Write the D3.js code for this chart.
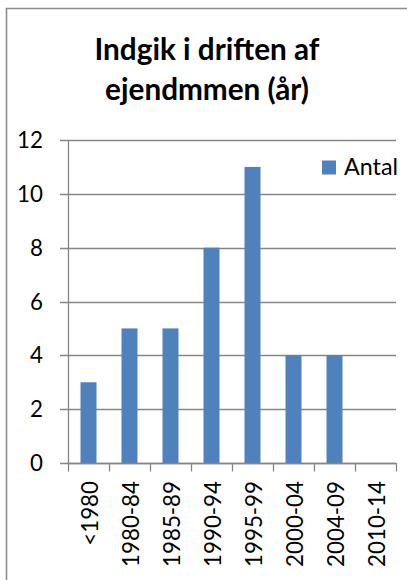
<!DOCTYPE html>
<html>
<head>
<meta charset="utf-8">
<script src="https://cdn.jsdelivr.net/npm/d3@7"></script>
<style>
  html, body { margin: 0; padding: 0; background: #fff; }
  svg { display: block; }
  text { font-family: Lato, "Open Sans", sans-serif; fill: #000; }
</style>
</head>
<body>
<svg id="chart" width="407" height="580"></svg>
<script>
const categories = ["<1980", "1980-84", "1985-89", "1990-94", "1995-99", "2000-04", "2004-09", "2010-14"];
const values = [3, 5, 5, 8, 11, 4, 4, 0];
const yTicks = [0, 2, 4, 6, 8, 10, 12];
const titleLines = ["Indgik i driften af", "ejendmmen (år)"];
const seriesName = "Antal";

const svg = d3.select("#chart");
const gridColor = "#868686";
const barColor = "#4F81BD";

// font size fitting a sample text to a target width
function fitSize(sample, target, weight) {
  const t = svg.append("text").style("font-size", "100px").style("font-weight", weight || "normal").text(sample);
  const w = t.node().getComputedTextLength();
  t.remove();
  return 100 * target / w;
}
const tickSize = fitSize("1980-84", 86);
const titleSize = fitSize("Indgik i driften af", 225, "bold");
const legendSize = fitSize("Antal", 54);

// outer chart border (cropped at right/bottom)
svg.append("path")
  .attr("d", "M6.5,600 L6.5,8.5 L420,8.5")
  .attr("fill", "none").attr("stroke", "#8c8c8c").attr("stroke-width", 1.6);

const x = d3.scaleBand().domain(categories).range([68, 396]).paddingInner(0.61).paddingOuter(0.305);
const xEdges = d3.scaleBand().domain(categories).range([68, 396]).padding(0);
const y = d3.scaleLinear().domain([0, 12]).range([463, 140]);

// gridlines + y ticks
svg.append("g").selectAll("line").data(yTicks).join("line")
  .attr("x1", 60).attr("x2", 396)
  .attr("y1", d => Math.round(y(d)) + 0.5).attr("y2", d => Math.round(y(d)) + 0.5)
  .attr("stroke", gridColor).attr("stroke-width", 1.3);

// y axis line
svg.append("line").attr("x1", 68.5).attr("x2", 68.5).attr("y1", y(12)).attr("y2", y(0) + 0.5)
  .attr("stroke", gridColor).attr("stroke-width", 1.3);

// y labels
svg.append("g").selectAll("text").data(yTicks).join("text")
  .attr("x", 43).attr("y", d => y(d)).attr("dy", "0.36em")
  .attr("text-anchor", "end").style("font-size", tickSize + "px")
  .text(d => d);

// bars
svg.append("g").selectAll("rect").data(values).join("rect")
  .attr("x", (d, i) => x(categories[i]))
  .attr("width", x.bandwidth())
  .attr("y", d => y(d))
  .attr("height", d => y(0) - y(d))
  .attr("fill", barColor);

// x axis line and boundary ticks
svg.append("line").attr("x1", 68).attr("x2", 396).attr("y1", Math.round(y(0)) + 0.5).attr("y2", Math.round(y(0)) + 0.5)
  .attr("stroke", gridColor).attr("stroke-width", 1.3);
const edges = categories.map(c => xEdges(c)).concat([xEdges.range()[1]]);
svg.append("g").selectAll("line").data(edges).join("line")
  .attr("x1", d => Math.round(d) + 0.5).attr("x2", d => Math.round(d) + 0.5)
  .attr("y1", y(0)).attr("y2", y(0) + 8.5)
  .attr("stroke", gridColor).attr("stroke-width", 1.3);

// x labels rotated
svg.append("g").selectAll("text").data(categories).join("text")
  .attr("transform", d => `translate(${x(d) + x.bandwidth() / 2 + 1},481) rotate(-90)`)
  .attr("dy", "0.38em").attr("text-anchor", "end").style("font-size", tickSize + "px")
  .text(d => d);

// title
svg.append("g").selectAll("text").data(titleLines).join("text")
  .attr("x", 207).attr("y", (d, i) => 60 + i * 40)
  .attr("text-anchor", "middle").style("font-size", titleSize + "px").style("font-weight", "bold")
  .text(d => d);

// legend
svg.append("rect").attr("x", 322).attr("y", 160.5).attr("width", 14).attr("height", 14).attr("fill", barColor);
svg.append("text").attr("x", 344).attr("y", 175).style("font-size", legendSize + "px").text(seriesName);
</script>
</body>
</html>
